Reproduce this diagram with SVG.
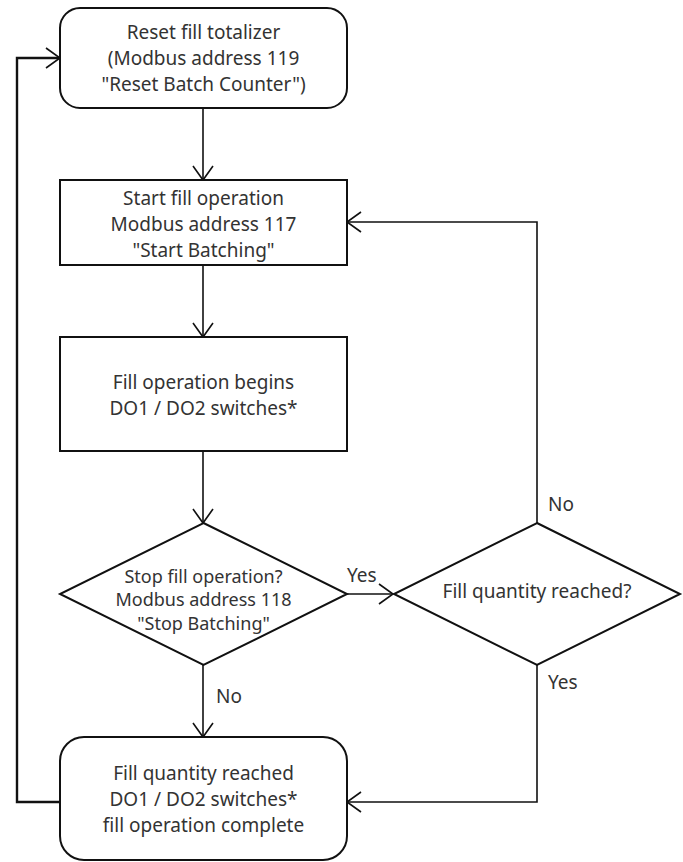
<svg xmlns="http://www.w3.org/2000/svg" width="683" height="862" viewBox="0 0 683 862">
<defs>
<style>
.box{fill:#fff;stroke:#111;stroke-width:2}
.t{font-family:"Noto Sans","Open Sans","Liberation Sans",sans-serif;font-size:19px;fill:#333;text-anchor:middle}
.d{font-size:18px}
.lbl{font-family:"Noto Sans","Open Sans","Liberation Sans",sans-serif;font-size:19px;fill:#333}
.c{fill:none;stroke:#111;stroke-width:1.6}
</style>
<marker id="ah" markerUnits="userSpaceOnUse" markerWidth="18" markerHeight="24" viewBox="0 0 18 24" refX="16" refY="12" orient="auto">
<path d="M2,2 L16,12 L2,22" fill="none" stroke="#111" stroke-width="1.6"/>
</marker>
</defs>
<g id="connectors">
<path class="c" d="M203,108 V180" marker-end="url(#ah)"/>
<path class="c" d="M203,265 V337" marker-end="url(#ah)"/>
<path class="c" d="M203,451 V523" marker-end="url(#ah)"/>
<path class="c" d="M347,594 H393" marker-end="url(#ah)"/>
<path class="c" d="M537,523 V222 H347" marker-end="url(#ah)"/>
<path class="c" d="M537,665 V802 H347" marker-end="url(#ah)"/>
<path class="c" d="M203,665 V737" marker-end="url(#ah)"/>
<path class="c" style="stroke-width:2.4" d="M60,802 H17 V58 H60" marker-end="url(#ah)"/>
<text class="lbl" x="347" y="582">Yes</text>
<text class="lbl" x="548" y="511">No</text>
<text class="lbl" x="548" y="689">Yes</text>
<text class="lbl" x="216" y="703">No</text>
</g>
<g id="reset">
<rect class="box" x="60" y="8" width="287" height="100" rx="20"/>
<text class="t" x="203.5" y="39">Reset fill totalizer</text>
<text class="t" x="203.5" y="65">(Modbus address 119</text>
<text class="t" x="203.5" y="91">"Reset Batch Counter")</text>
</g>
<g id="start">
<rect class="box" x="60" y="180" width="287" height="85"/>
<text class="t" x="203.5" y="205">Start fill operation</text>
<text class="t" x="203.5" y="231">Modbus address 117</text>
<text class="t" x="203.5" y="257">"Start Batching"</text>
</g>
<g id="begin">
<rect class="box" x="60" y="337" width="287" height="114"/>
<text class="t" x="203.5" y="389">Fill operation begins</text>
<text class="t" x="203.5" y="415">DO1 / DO2 switches*</text>
</g>
<g id="stop">
<polygon class="box" points="203.5,523 347,594 203.5,665 60,594"/>
<text class="t d" x="203.5" y="583">Stop fill operation?</text>
<text class="t d" x="203.5" y="606">Modbus address 118</text>
<text class="t d" x="203.5" y="630">"Stop Batching"</text>
</g>
<g id="quantity">
<polygon class="box" points="537,523 680,594 537,665 394,594"/>
<text class="t" x="537" y="598">Fill quantity reached?</text>
</g>
<g id="complete">
<rect class="box" x="60" y="737" width="287" height="123" rx="24"/>
<text class="t" x="203.5" y="780">Fill quantity reached</text>
<text class="t" x="203.5" y="806">DO1 / DO2 switches*</text>
<text class="t" x="203.5" y="832">fill operation complete</text>
</g>
</svg>
